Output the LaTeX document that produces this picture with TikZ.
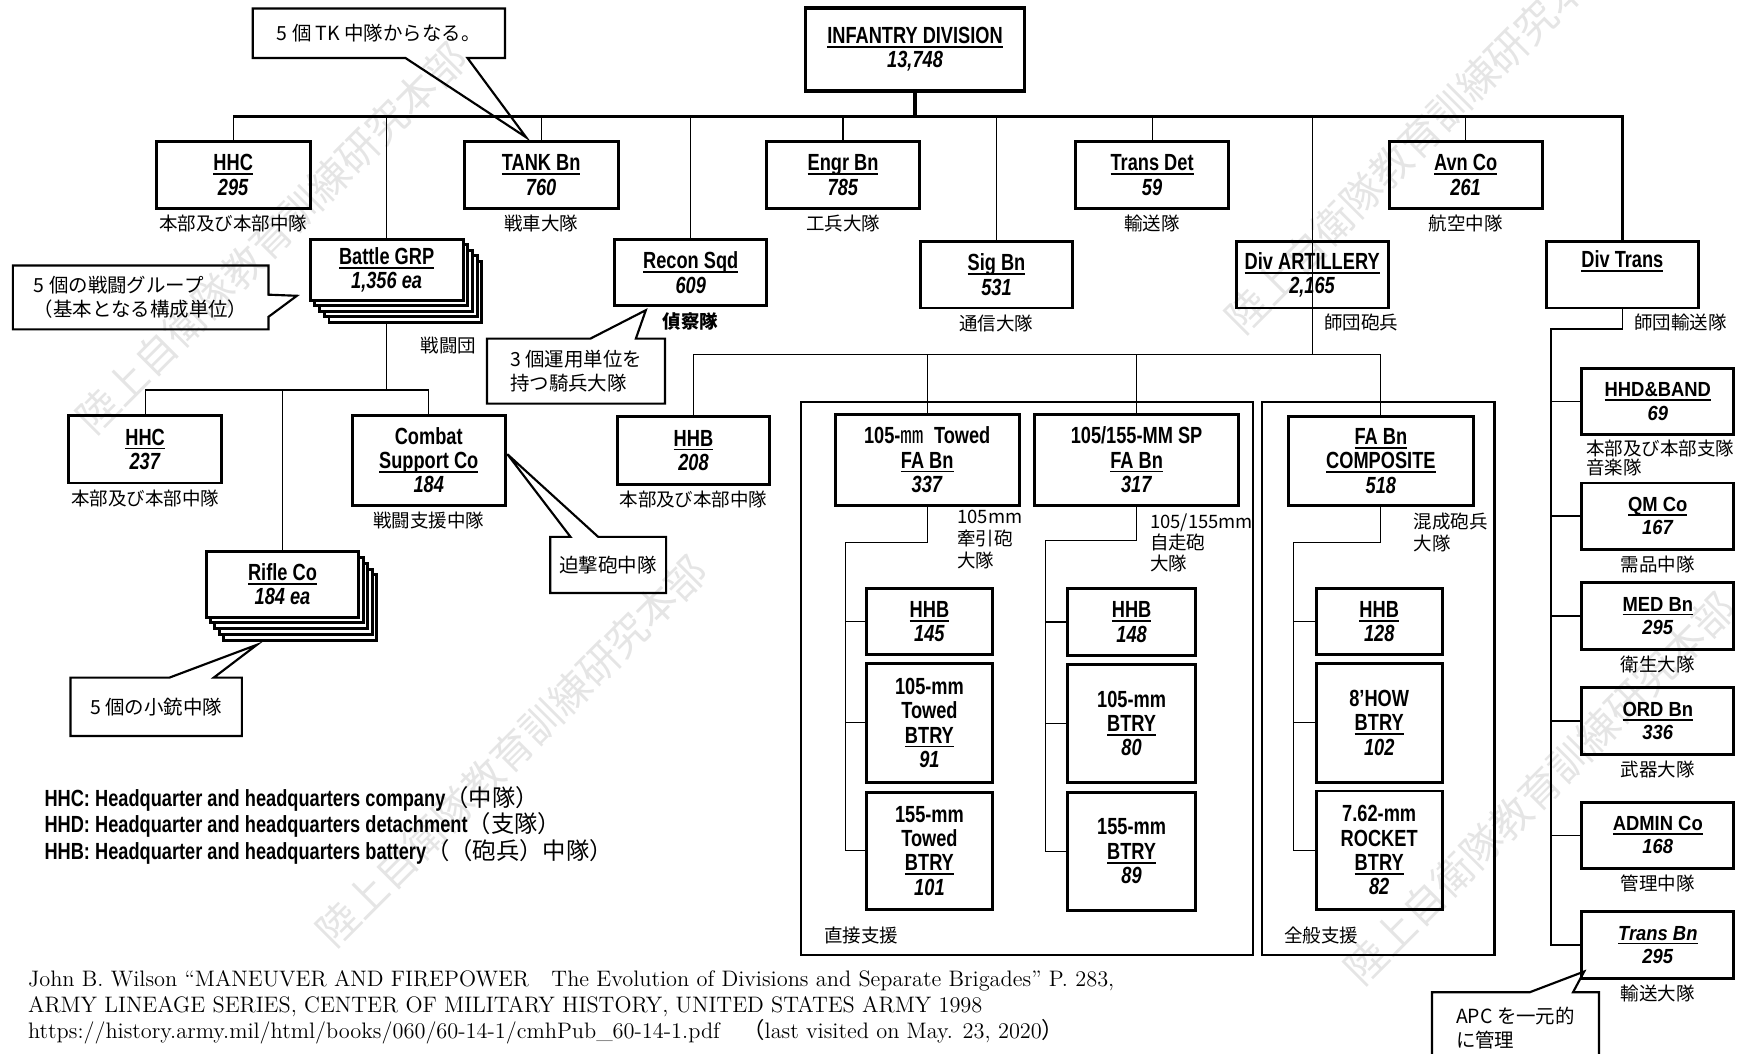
\documentclass[tikz,border=0pt]{standalone}
\usepackage{fontspec}
\usepackage{tikz}
\usetikzlibrary{positioning}
\newfontfamily\nsf[FakeStretch=0.78]{Liberation Sans}
\newfontfamily\wsf[FakeStretch=0.9]{Liberation Sans}
\newfontfamily\jp{Noto Sans CJK JP}
\newsavebox\ulsave
\newcommand{\ulbox}[1]{\sbox\ulsave{#1}\rlap{\rule[-2.2pt]{\wd\ulsave}{0.9pt}}\usebox\ulsave}
\tikzset{unit/.style={draw, line width=1.5pt, align=center, inner sep=1pt, font=\nsf\bfseries\fontsize{12}{12.5}\selectfont},
         boxsize/.style 2 args={minimum width=#1*0.02cm, minimum height=#2*0.02cm},
         transunit/.style={unit, font=\wsf\bfseries\fontsize{10.5}{12}\selectfont, boxsize={137}{60}},
         jplabel/.style={inner sep=1pt, align=left, font=\jp\fontsize{9.5}{11}\selectfont},
         note/.style={inner sep=0pt, align=left, font=\jp\fontsize{10}{12.5}\selectfont},
         noteline/.style={line width=1.1pt},
         link/.style={line width=0.6pt},
         trunk/.style={line width=0.8pt},
         bus/.style={line width=1.8pt},
         frame/.style={line width=1.3pt},
         wmark/.style={text=gray!20, rotate=45, font=\jp\fontsize{21}{21}\selectfont}}

\begin{document}
\begin{tikzpicture}[x=0.02cm, y=-0.02cm]
    \useasboundingbox (0,0) rectangle (1568,951);

    % watermark
    \node[wmark] (wm1) at (245,215) {陸上自衛隊教育訓練研究本部};
    \node[wmark] (wm2) at (462,678) {陸上自衛隊教育訓練研究本部};
    \node[wmark] (wm3) at (1282,124) {陸上自衛隊教育訓練研究本部};
    \node[wmark] (wm4) at (1390,712) {陸上自衛隊教育訓練研究本部};

    % division and first row
    \node[unit, line width=1.8pt, boxsize={198}{75}] (div) at (826,44.5) {\ulbox{INFANTRY DIVISION}\\\textit{13,748}};

    \node[unit, boxsize={139}{60}] (hhc) at (210.5,158) {\ulbox{HHC}\\\textit{295}};
    \node[unit, boxsize={139}{60}] (tank) at (488.5,158) {\ulbox{TANK Bn}\\\textit{760}};
    \node[unit, boxsize={138}{60}] (engr) at (761,158) {\ulbox{Engr Bn}\\\textit{785}};
    \node[unit, boxsize={138}{60}] (transdet) at (1040,158) {\ulbox{Trans Det}\\\textit{59}};
    \node[unit, boxsize={138}{60}] (avn) at (1323,158) {\ulbox{Avn Co}\\\textit{261}};

    % second row
    \foreach \k in {4,3,2,1}
        \node[unit, fill=white, boxsize={138}{55}] (bstack\k) at ({349+4.25*\k},{243.5+5*\k}) {};
    \node[unit, fill=white, boxsize={138}{55}] (battle) at (349,243.5) {\ulbox{Battle GRP}\\\textit{1,356 ea}};
    \node[unit, boxsize={137}{60}] (recon) at (623.5,246) {\ulbox{Recon Sqd}\\\textit{609}};
    \node[unit, boxsize={137}{60}] (sig) at (899.5,248) {\ulbox{Sig Bn}\\\textit{531}};
    \node[unit, boxsize={137}{60}] (arty) at (1184.5,248) {\ulbox{Div ARTILLERY}\\\textit{2,165}};
    \node[unit, boxsize={137}{60}] (divtrans) at (1464.5,248) {\ulbox{Div Trans}\\\strut};

    % battle group
    \node[unit, boxsize={138}{61}] (hhcbg) at (131,405.5) {\ulbox{HHC}\\\textit{237}};
    \node[unit, boxsize={138}{81}] (combat) at (387,415.5) {Combat\\\ulbox{Support Co}\\\textit{184}};
    \foreach \k in {4,3,2,1}
        \node[unit, fill=white, boxsize={138}{59}] (rstack\k) at ({255+4*\k},{527.5+5.25*\k}) {};
    \node[unit, fill=white, boxsize={138}{59}] (rifle) at (255,527.5) {\ulbox{Rifle Co}\\\textit{184 ea}};

    % artillery
    \node[unit, boxsize={138}{61}] (hhb) at (626,406.5) {\ulbox{HHB}\\\textit{208}};
    \draw[frame] (723,363) rectangle (1131,862);
    \draw[frame] (1139,363) rectangle (1349,862);
    \node[unit, boxsize={166}{82}] (towed) at (837,415) {105-{\jp\mdseries ㎜}\ \ Towed\\\ulbox{FA Bn}\\\textit{337}};
    \node[unit, boxsize={184}{82}] (sp) at (1026,415) {105/155-MM SP\\\ulbox{FA Bn}\\\textit{317}};
    \node[unit, boxsize={167}{80}] (comp) at (1246.5,416) {\ulbox{FA Bn}\\\ulbox{COMPOSITE}\\\textit{518}};

    \node[unit, boxsize={114}{60}] (hhbt) at (839,561) {\ulbox{HHB}\\\textit{145}};
    \node[unit, boxsize={114}{107}] (towedA) at (839,652.5) {105-mm\\Towed\\\ulbox{BTRY}\\\textit{91}};
    \node[unit, boxsize={114}{106}] (towedB) at (839,768) {155-mm\\Towed\\\ulbox{BTRY}\\\textit{101}};
    \node[unit, boxsize={115}{61}] (hhbsp) at (1021.5,561.5) {\ulbox{HHB}\\\textit{148}};
    \node[unit, boxsize={115}{106}] (spA) at (1021.5,653) {105-mm\\\ulbox{BTRY}\\\textit{80}};
    \node[unit, boxsize={115}{107}] (spB) at (1021.5,768.5) {155-mm\\\ulbox{BTRY}\\\textit{89}};
    \node[unit, boxsize={114}{60}] (hhbcp) at (1245,561) {\ulbox{HHB}\\\textit{128}};
    \node[unit, boxsize={114}{107}] (cpA) at (1245,652.5) {8’HOW\\\ulbox{BTRY}\\\textit{102}};
    \node[unit, boxsize={114}{107}] (cpB) at (1245,767.5) {7.62-mm\\ROCKET\\\ulbox{BTRY}\\\textit{82}};

    % division trains
    \node[transunit] (hhd) at (1496.5,362.5) {\ulbox{HHD\&BAND}\\\textit{69}};
    \node[transunit] (qm) at (1496.5,466) {\ulbox{QM Co}\\\textit{167}};
    \node[transunit] (med) at (1496.5,556) {\ulbox{MED Bn}\\\textit{295}};
    \node[transunit] (ord) at (1496.5,651) {\ulbox{ORD Bn}\\\textit{336}};
    \node[transunit] (admin) at (1496.5,754) {\ulbox{ADMIN Co}\\\textit{168}};
    \node[transunit] (transbn) at (1496.5,853) {\ulbox{\textit{Trans Bn}}\\\textit{295}};

    % japanese labels
    \node[jplabel, below=1.5pt of hhc] (hhclbl) {本部及び本部中隊};
    \node[jplabel, below=1.5pt of tank] (tanklbl) {戦車大隊};
    \node[jplabel, below=1.5pt of engr] (engrlbl) {工兵大隊};
    \node[jplabel, below=1.5pt of transdet] (transdetlbl) {輸送隊};
    \node[jplabel, below=1.5pt of avn] (avnlbl) {航空中隊};
    \node[jplabel] (battlelbl) at (405,312) {戦闘団};
    \node[jplabel, below=1.5pt of recon, font=\jp\bfseries\fontsize{9.5}{11}\selectfont] (reconlbl) {偵察隊};
    \node[jplabel, below=1.5pt of sig] (siglbl) {通信大隊};
    \node[jplabel] (artylbl) at (1229,291) {師団砲兵};
    \node[jplabel] (divtranslbl) at (1517,291) {師団輸送隊};
    \node[jplabel, below=1.5pt of hhcbg] (hhcbglbl) {本部及び本部中隊};
    \node[jplabel, below=1.5pt of combat] (combatlbl) {戦闘支援中隊};
    \node[jplabel, below=1.5pt of hhb] (hhblbl) {本部及び本部中隊};
    \node[jplabel, anchor=north west, font=\jp\fontsize{9.5}{11.3}\selectfont] (towedlbl) at (862,458) {105mm\\牽引砲\\大隊};
    \node[jplabel, anchor=north west, font=\jp\fontsize{9.5}{10.8}\selectfont] (splbl) at (1036,462) {105/155mm\\自走砲\\大隊};
    \node[jplabel, anchor=north west, font=\jp\fontsize{9.5}{11.3}\selectfont] (complbl) at (1274,461) {混成砲兵\\大隊};
    \node[jplabel, anchor=west] (dslbl) at (742,844) {直接支援};
    \node[jplabel, anchor=west] (gslbl) at (1157,844) {全般支援};
    \node[jplabel, anchor=north west, font=\jp\fontsize{9.5}{9.8}\selectfont] (hhdlbl) at (1430,395) {本部及び本部支隊\\音楽隊};
    \node[jplabel, below=1.5pt of qm] (qmlbl) {需品中隊};
    \node[jplabel, below=1.5pt of med] (medlbl) {衛生大隊};
    \node[jplabel, below=1.5pt of ord] (ordlbl) {武器大隊};
    \node[jplabel, below=1.5pt of admin] (adminlbl) {管理中隊};
    \node[jplabel, below=1.5pt of transbn] (transbnlbl) {輸送大隊};

    % connectors
    \coordinate (bus) at (826,105);
    \draw[bus] (div.south) -- (bus);
    \draw[bus] (hhc.north |- bus) -- (divtrans.north |- bus) -- (divtrans.north);
    \foreach \n in {hhc,tank,battle,recon,engr,sig,transdet,avn}
        \draw[link] (\n.north |- bus) -- (\n.north);

    \coordinate (bgrow) at (349,352);
    \draw[link] (battle.south |- bstack4.south) -- (battle.south |- bgrow);
    \draw[link] (hhcbg.north) |- (combat.north |- bgrow) -- (combat.north);
    \draw[link] (rifle.north |- bgrow) -- (rifle.north);

    \coordinate (artyrow) at (1183,320);
    \draw[link] (arty.north |- bus) -- (arty.north |- artyrow);
    \draw[link] (hhb.north) |- (comp.north |- artyrow) -- (comp.north);
    \draw[link] (towed.north |- artyrow) -- (towed.north);
    \draw[link] (sp.north |- artyrow) -- (sp.north);

    \coordinate (towedsp) at (763,490);
    \draw[link] (towed.south) |- (towedsp) -- (towedsp |- towedB.west) -- (towedB.west);
    \foreach \n in {hhbt,towedA}
        \draw[link] (towedsp |- \n.west) -- (\n.west);
    \coordinate (spsp) at (944,488);
    \draw[link] (sp.south) |- (spsp) -- (spsp |- spB.west) -- (spB.west);
    \foreach \n in {hhbsp,spA}
        \draw[link] (spsp |- \n.west) -- (\n.west);
    \coordinate (cpsp) at (1168,490);
    \draw[link] (comp.south) |- (cpsp) -- (cpsp |- cpB.west) -- (cpB.west);
    \foreach \n in {hhbcp,cpA}
        \draw[link] (cpsp |- \n.west) -- (\n.west);

    \coordinate (transsp) at (1400,297);
    \draw[trunk] (divtrans.south) |- (transsp) -- (transsp |- transbn.west) -- (transbn.west);
    \foreach \n in {hhd,qm,med,ord,admin}
        \draw[trunk] (transsp |- \n.west) -- (\n.west);

    % callouts
    \node[note, boxsize={227}{44}, align=center] (tknote) at (342,30) {5 個 TK 中隊からなる。};
    \coordinate (tktip) at (475,124);
    \draw[noteline] (tknote.north west) -- (tknote.north east) -- (tknote.south east) -- (tknote.south -| 422,0) -- (tktip) -- (tknote.south -| 366,0) -- (tknote.south west) -- cycle;

    \node[note, boxsize={230}{57}] (bgnote) at (127,268.5) {5 個の戦闘グループ\\（基本となる構成単位）};
    \coordinate (bgtip) at (268,267);
    \draw[noteline] (bgnote.north west) -- (bgnote.north east) -- (bgnote.east |- 0,266) -- (bgtip) -- (bgnote.east |- 0,286) -- (bgnote.south east) -- (bgnote.south west) -- cycle;

    \node[note, boxsize={160}{58}] (reconnote) at (520,335) {3 個運用単位を\\持つ騎兵大隊};
    \coordinate (recontip) at (583,280);
    \draw[noteline] (reconnote.north west) -- (reconnote.north -| 533,0) -- (recontip) -- (reconnote.north -| 574,0) -- (reconnote.north east) -- (reconnote.south east) -- (reconnote.south west) -- cycle;

    \node[note, boxsize={154}{52}, align=center] (riflenote) at (141,638) {5 個の小銃中隊};
    \coordinate (rifletip) at (232,582);
    \draw[noteline] (riflenote.north west) -- (riflenote.north -| 153,0) -- (rifletip) -- (riflenote.north -| 193,0) -- (riflenote.north east) -- (riflenote.south east) -- (riflenote.south west) -- cycle;

    \node[note, boxsize={104}{50}, align=center] (mortarnote) at (549,510) {迫撃砲中隊};
    \coordinate (mortartip) at (458,410);
    \draw[noteline] (mortarnote.north west) -- (mortarnote.north -| 515,0) -- (mortartip) -- (mortarnote.north -| 540,0) -- (mortarnote.north east) -- (mortarnote.south east) -- (mortarnote.south west) -- cycle;

    \node[note, boxsize={150}{64}] (apcnote) at (1368,928) {APC を一元的\\に管理};
    \coordinate (apctip) at (1430,877);
    \draw[noteline] (apcnote.north west) -- (apcnote.north -| 1381,0) -- (apctip) -- (apcnote.north -| 1420,0) -- (apcnote.north east) -- (apcnote.south east) -- (apcnote.south west) -- cycle;

    % legend and source
    \node[anchor=west, align=left, font=\nsf\bfseries\fontsize{12}{12.5}\selectfont] (legend) at (34,745)
        {HHC: Headquarter and headquarters company{\jp\mdseries （中隊）}\\
         HHD: Headquarter and headquarters detachment{\jp\mdseries （支隊）}\\
         HHB: Headquarter and headquarters battery{\jp\mdseries （（砲兵）中隊）}};
    \node[anchor=west, align=left, inner sep=0pt, font=\fontsize{11.5}{13.3}\selectfont] (source) at (25,909)
        {John B. Wilson “MANEUVER AND FIREPOWER{\jp 　}The Evolution of Divisions and Separate Brigades” P. 283,\\
         ARMY LINEAGE SERIES, CENTER OF MILITARY HISTORY, UNITED STATES ARMY 1998\\
         https://history.army.mil/html/books/060/60-14-1/cmhPub\_60-14-1.pdf{\jp 　（}last visited on May. 23, 2020{\jp ）}};
\end{tikzpicture}
\end{document}
